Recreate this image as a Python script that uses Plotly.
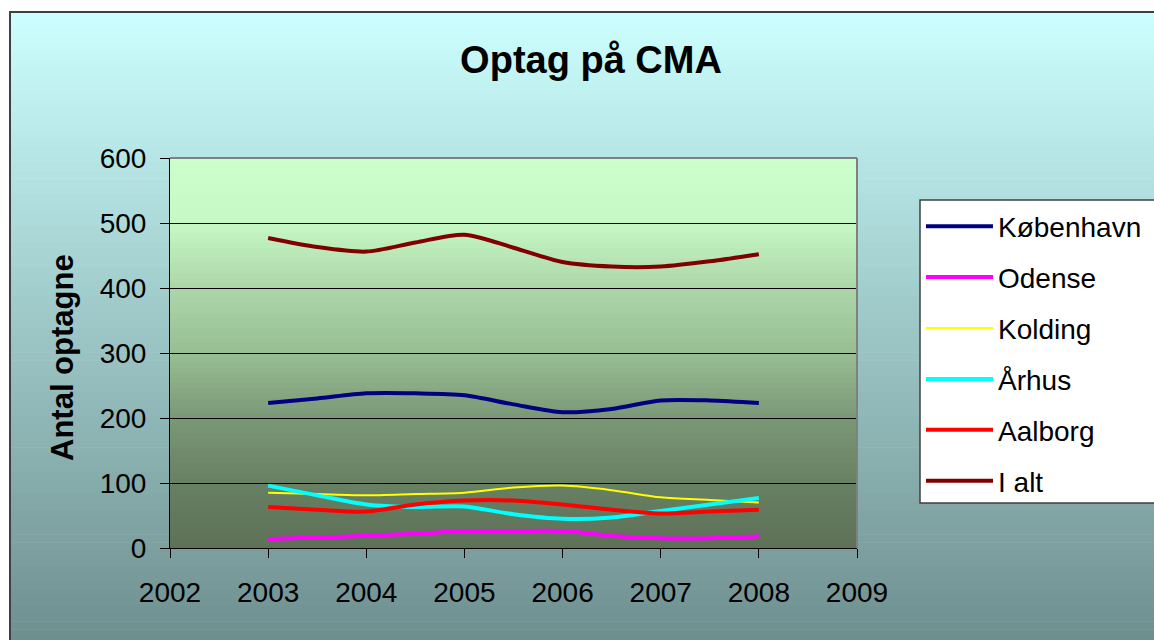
import plotly.graph_objects as go

# ---------------- data ----------------
periods = [2003, 2003.5, 2004, 2004.5, 2005, 2005.5, 2006, 2006.5, 2007, 2007.5, 2008]
koebenhavn = [223, 230, 238, 238, 235, 221, 209, 214, 227, 227, 223]
odense = [14, 16, 19, 22, 26, 26, 26, 19, 15, 15, 18]
kolding = [85, 83, 81, 83, 85, 93, 96, 89, 78, 74, 70]
aarhus = [96, 81, 67, 63, 64, 52, 45, 47, 57, 67, 77]
aalborg = [63, 59, 56, 67, 73, 73, 67, 59, 53, 56, 59]
i_alt = [477, 463, 456, 470, 482, 462, 440, 433, 433, 441, 452]

series_names = ["København", "Odense", "Kolding", "Århus", "Aalborg", "I alt"]
series_values = [koebenhavn, odense, kolding, aarhus, aalborg, i_alt]
series_colors = ["#000080", "#FF00FF", "#FFFF00", "#00FFFF", "#FF0000", "#800000"]
series_widths = [4, 4, 2, 4, 4, 4]

x_ticks = [2002, 2003, 2004, 2005, 2006, 2007, 2008, 2009]
y_ticks = [0, 100, 200, 300, 400, 500, 600]

title_text = "Optag på CMA"
y_title = "Antal optagne"

# ---------------- layout geometry ----------------
W, H = 1154, 640
L, T = 170, 158
PW, PH = 687, 390
R, B = W - L - PW, H - T - PH
FONT = "Liberation Sans, Arial, sans-serif"


def px(xs):
    """screen x pixel -> paper x"""
    return (xs - L) / PW


def py(ys):
    """screen y pixel -> paper y"""
    return (T + PH - ys) / PH


def lerp(c1, c2, t):
    return tuple(round(a + (b - a) * t) for a, b in zip(c1, c2))


def stops_color(stops, t):
    for (t0, c0), (t1, c1) in zip(stops[:-1], stops[1:]):
        if t <= t1:
            return lerp(c0, c1, (t - t0) / (t1 - t0))
    return stops[-1][1]


shapes = []
# figure gradient background
top_c, bot_c = (204, 255, 255), (110, 142, 142)
N = 80
y0s, y1s = 12, 645
for i in range(N):
    a = y0s + (y1s - y0s) * i / N
    b = y0s + (y1s - y0s) * (i + 1) / N
    c = lerp(top_c, bot_c, (i + 0.5) / N)
    shapes.append(dict(type="rect", xref="paper", yref="paper", layer="below",
                       x0=px(10), x1=px(1170), y0=py(a), y1=py(b + 0.6),
                       fillcolor="rgb(%d,%d,%d)" % c, line=dict(width=0)))
# outer border
shapes.append(dict(type="rect", xref="paper", yref="paper", layer="below",
                   x0=px(10), x1=px(1170), y0=py(12), y1=py(660),
                   fillcolor="rgba(0,0,0,0)", line=dict(color="#404040", width=2)))
# plot area gradient (fraction from top -> colour)
plot_stops = [(0.0, (204, 255, 204)), (1 / 6, (198, 248, 197)), (2 / 6, (172, 214, 169)),
              (3 / 6, (152, 190, 148)), (4 / 6, (122, 152, 118)), (5 / 6, (103, 128, 98)),
              (1.0, (94, 113, 88))]
M = 78
for i in range(M):
    c = stops_color(plot_stops, (i + 0.5) / M)
    shapes.append(dict(type="rect", xref="paper", yref="paper", layer="below",
                       x0=0, x1=1, y0=1 - i / M, y1=max(0, 1 - (i + 1) / M - 0.003),
                       fillcolor="rgb(%d,%d,%d)" % c, line=dict(width=0)))
# gray top/right border of plot area
shapes.append(dict(type="line", xref="paper", yref="paper", layer="above",
                   x0=0, x1=1, y0=1, y1=1, line=dict(color="#808080", width=2)))
shapes.append(dict(type="line", xref="paper", yref="paper", layer="above",
                   x0=1, x1=1, y0=0, y1=1, line=dict(color="#808080", width=2)))
# legend box (runs past the right edge as in the original)
shapes.append(dict(type="rect", xref="paper", yref="paper", layer="above",
                   x0=px(920), x1=px(1175), y0=py(200), y1=py(503),
                   fillcolor="white", line=dict(color="#404040", width=1.5)))

fig = go.Figure()
for name, vals, col, w in zip(series_names, series_values, series_colors, series_widths):
    fig.add_trace(go.Scatter(
        x=periods, y=vals, name=name, mode="lines", legendgroup=name,
        line=dict(color=col, width=w, shape="spline", smoothing=0.8),
    ))

fig.update_layout(
    width=W, height=H,
    margin=dict(l=L, r=R, t=T, b=B, pad=0, autoexpand=False),
    paper_bgcolor="white",
    plot_bgcolor="rgba(0,0,0,0)",
    font=dict(family=FONT, size=28, color="black"),
    shapes=shapes,
    title=dict(text="<b>" + title_text + "</b>", xref="paper", x=px(591),
               xanchor="center", yref="container", y=1 - 60 / H, yanchor="middle",
               font=dict(size=38, family=FONT, color="black")),
    showlegend=True,
    legend=dict(x=px(921), y=py(201.5), xanchor="left", yanchor="top",
                bgcolor="rgba(0,0,0,0)", borderwidth=0,
                font=dict(size=28, family=FONT, color="black"),
                tracegroupgap=11.5, itemwidth=67, traceorder="grouped"),
    annotations=[dict(text="<b>" + y_title + "</b>", textangle=-90,
                      xref="paper", yref="paper", x=px(62), y=py(358),
                      xanchor="center", yanchor="middle", showarrow=False,
                      font=dict(size=31, family=FONT, color="black"))],
)

fig.update_xaxes(range=[2002, 2009], tickmode="array", tickvals=x_ticks,
                 ticktext=[str(t) for t in x_ticks],
                 showgrid=False, zeroline=False, showline=True, linecolor="black", linewidth=1,
                 ticks="outside", ticklen=9, tickcolor="black", tickwidth=1,
                 ticklabelstandoff=10, fixedrange=True)
fig.update_yaxes(range=[0, 600], tickmode="array", tickvals=y_ticks,
                 ticktext=[str(t) for t in y_ticks],
                 showgrid=True, gridcolor="black", gridwidth=1, zeroline=False,
                 showline=True, linecolor="black", linewidth=1,
                 ticks="outside", ticklen=9, tickcolor="black", tickwidth=1,
                 ticklabelstandoff=8, fixedrange=True)

fig.write_html(
    "out.html",
    config={"displayModeBar": False},
    post_script="document.body.style.margin='0';document.body.style.overflow='hidden';",
)
